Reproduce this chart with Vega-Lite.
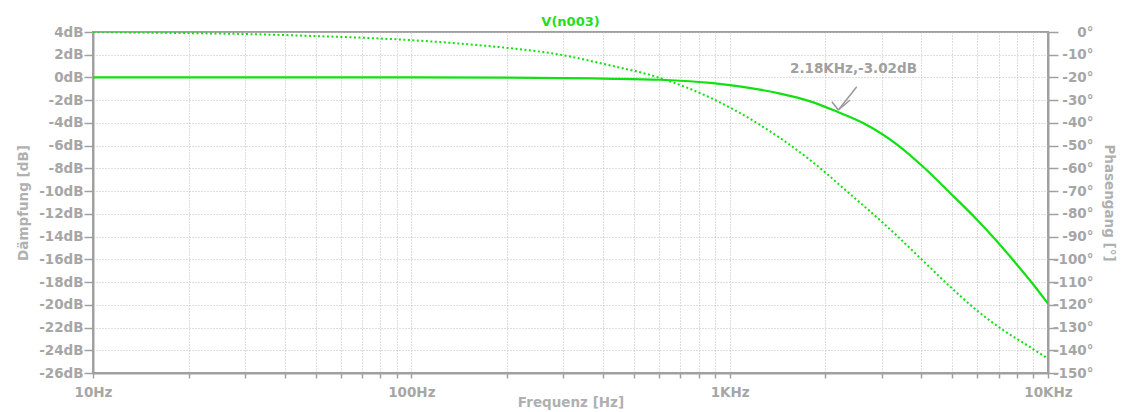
{
  "$schema": "https://vega.github.io/schema/vega-lite/v6.json",
  "width": 955,
  "height": 341,
  "autosize": {"type": "none"},
  "padding": {"left": 93, "top": 32, "right": 78, "bottom": 39},
  "background": "white",
  "title": {"text": "V(n003)", "color": "#22dd22", "fontSize": 13, "font": "DejaVu Sans", "fontWeight": "bold", "anchor": "middle", "offset": -4},
  "datasets": {
    "mag": [
      {"f": 10, "db": 0}, {"f": 30, "db": 0}, {"f": 100, "db": 0}, {"f": 200, "db": -0.02},
      {"f": 300, "db": -0.05}, {"f": 400, "db": -0.1}, {"f": 604, "db": -0.2}, {"f": 887, "db": -0.5},
      {"f": 1245, "db": -1.07}, {"f": 1440, "db": -1.42}, {"f": 1790, "db": -2.1}, {"f": 2180, "db": -3.02},
      {"f": 2625, "db": -4.0}, {"f": 3357, "db": -5.9}, {"f": 4052, "db": -7.85}, {"f": 5035, "db": -10.42},
      {"f": 5975, "db": -12.49}, {"f": 6900, "db": -14.38}, {"f": 7980, "db": -16.45}, {"f": 8913, "db": -18.08},
      {"f": 10000, "db": -19.9}
    ],
    "phase": [
      {"f": 10, "ph": 0}, {"f": 20, "ph": -0.5}, {"f": 32.7, "ph": -1}, {"f": 50, "ph": -1.8},
      {"f": 78, "ph": -2.8}, {"f": 139, "ph": -5}, {"f": 200, "ph": -7.0}, {"f": 300, "ph": -10.2},
      {"f": 400, "ph": -14}, {"f": 604, "ph": -20.2}, {"f": 887, "ph": -29.5}, {"f": 1246, "ph": -40.9},
      {"f": 1789, "ph": -56.3}, {"f": 2390, "ph": -71.3}, {"f": 3034, "ph": -84.0}, {"f": 3357, "ph": -89.7},
      {"f": 4013, "ph": -100.1}, {"f": 4925, "ph": -112.0}, {"f": 6043, "ph": -123.0}, {"f": 7226, "ph": -131.1},
      {"f": 8579, "ph": -137.7}, {"f": 10000, "ph": -143.7}
    ],
    "arrow": [
      {"f1": 2507, "d1": -0.81, "f2": 2195, "d2": -2.86},
      {"f1": 2094, "d1": -2.13, "f2": 2195, "d2": -2.86},
      {"f1": 2390, "d1": -1.98, "f2": 2195, "d2": -2.86}
    ],
    "label": [
      {"f": 2449, "db": 0.75, "txt": "2.18KHz,-3.02dB"}
    ]
  },
  "layer": [
    {
      "data": {"name": "mag"},
      "mark": {"type": "line", "color": "#11e011", "strokeWidth": 2.2, "interpolate": "monotone", "clip": true},
      "encoding": {
        "x": {
          "field": "f", "type": "quantitative",
          "scale": {"type": "log", "domain": [10, 10000], "nice": false},
          "axis": {
            "title": "Frequenz [Hz]",
            "values": [10, 20, 30, 40, 50, 60, 70, 80, 90, 100, 200, 300, 400, 500, 600, 700, 800, 900, 1000, 2000, 3000, 4000, 5000, 6000, 7000, 8000, 9000, 10000],
            "labelExpr": "datum.value == 10 ? '10Hz' : datum.value == 100 ? '100Hz' : datum.value == 1000 ? '1KHz' : datum.value == 10000 ? '10KHz' : ''",
            "tickSize": 5,
            "labelPadding": 7,
            "labelFlush": false,
            "labelOverlap": false,
            "titleBaseline": "top",
            "titleY": 22
          }
        },
        "y": {
          "field": "db", "type": "quantitative",
          "scale": {"domain": [-26, 4], "nice": false, "zero": false},
          "axis": {
            "title": "Dämpfung [dB]",
            "values": [-26, -24, -22, -20, -18, -16, -14, -12, -10, -8, -6, -4, -2, 0, 2, 4],
            "labelExpr": "datum.value + 'dB'",
            "labelOverlap": false,
            "tickSize": 9,
            "labelPadding": 1,
            "titlePadding": 8
          }
        }
      }
    },
    {
      "data": {"name": "phase"},
      "mark": {"type": "line", "color": "#11e011", "strokeWidth": 2, "strokeDash": [2, 2.5], "interpolate": "monotone", "clip": true},
      "encoding": {
        "x": {"field": "f", "type": "quantitative"},
        "y": {
          "field": "ph", "type": "quantitative",
          "scale": {"domain": [-150, 0], "nice": false, "zero": false},
          "axis": {
            "orient": "right",
            "title": "Phasengang [°]",
            "values": [-150, -140, -130, -120, -110, -100, -90, -80, -70, -60, -50, -40, -30, -20, -10, 0],
            "labelExpr": "datum.value + '°'",
            "labelOverlap": false,
            "grid": false,
            "tickSize": 10,
            "labelAlign": "right",
            "labelPadding": 35,
            "titlePadding": 8
          }
        }
      }
    },
    {
      "data": {"name": "arrow"},
      "mark": {"type": "rule", "color": "#999999", "strokeWidth": 1.5},
      "encoding": {
        "x": {"field": "f1", "type": "quantitative"},
        "x2": {"field": "f2"},
        "y": {"field": "d1", "type": "quantitative", "scale": {"domain": [-26, 4], "nice": false, "zero": false}, "axis": null},
        "y2": {"field": "d2"}
      }
    },
    {
      "data": {"name": "label"},
      "mark": {"type": "text", "color": "#a0a0a0", "font": "DejaVu Sans", "fontWeight": "bold", "fontSize": 13.5, "align": "center", "baseline": "middle"},
      "encoding": {
        "x": {"field": "f", "type": "quantitative"},
        "y": {"field": "db", "type": "quantitative", "scale": {"domain": [-26, 4], "nice": false, "zero": false}, "axis": null},
        "text": {"field": "txt"}
      }
    }
  ],
  "resolve": {"scale": {"y": "independent"}, "axis": {"y": "independent"}},
  "config": {
    "view": {"stroke": "#a0a0a0", "strokeWidth": 2},
    "axis": {
      "labelFont": "DejaVu Sans",
      "labelFontWeight": "bold",
      "labelFontSize": 13.5,
      "labelColor": "#a6a6a6",
      "labelOverlap": false,
      "titleFont": "DejaVu Sans",
      "titleFontWeight": "bold",
      "titleFontSize": 13.5,
      "titleColor": "#b0b0b0",
      "domainColor": "#a0a0a0",
      "domainWidth": 2,
      "tickColor": "#a0a0a0",
      "tickWidth": 1.5,
      "gridColor": "#bcbcbc",
      "gridDash": [1, 2],
      "gridWidth": 1,
      "grid": true
    }
  }
}
